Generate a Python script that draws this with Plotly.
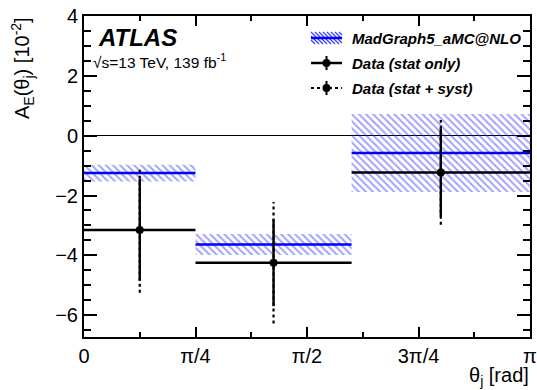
import numpy as np
import plotly.graph_objects as go

PI = np.pi
# ---- data ----
bin_edges = [0.0, PI / 4, 3 * PI / 5, PI]
mc_values = [-1.25, -3.64, -0.58]
mc_uncert = [0.28, 0.35, 1.30]
data_values = [-3.15, -4.25, -1.23]
data_stat = [1.70, 1.45, 1.47]
data_total = [2.10, 2.03, 1.75]
x_tick_vals = [0, PI / 4, PI / 2, 3 * PI / 4, PI]
x_tick_text = ['0', 'π/4', 'π/2', '3π/4', 'π']
x_minor_vals = [PI / 8, 3 * PI / 8, 5 * PI / 8, 7 * PI / 8]
y_tick_vals = [-6, -4, -2, 0, 2, 4]
legend_labels = ['MadGraph5_aMC@NLO', 'Data (stat only)', 'Data (stat + syst)']

lo = np.array(bin_edges[:-1])
hi = np.array(bin_edges[1:])
centers = (lo + hi) / 2
widths = hi - lo
mc = np.array(mc_values)
mce = np.array(mc_uncert)
dv = np.array(data_values)
ds = np.array(data_stat)
dt = np.array(data_total)


def segs(x0s, x1s, y0s, y1s):
    X, Y = [], []
    for a, b, c, d in zip(x0s, x1s, y0s, y1s):
        X += [a, b, None]
        Y += [c, d, None]
    return X, Y


FONT = 'Liberation Sans'
BLUE = '#0000ff'
HATCH = 'rgba(40,40,255,0.9)'

fig = go.Figure()

# MC uncertainty band (hatched)
fig.add_trace(go.Bar(
    x=centers, y=2 * mce, base=mc - mce, width=widths,
    marker=dict(color='rgba(0,0,0,0)', line=dict(width=0),
                pattern=dict(shape='\\', fgcolor=HATCH, bgcolor='rgba(0,0,0,0)',
                             size=5, solidity=0.38)),
    showlegend=False, hoverinfo='skip'))

# MC central value
X, Y = segs(lo, hi, mc, mc)
fig.add_trace(go.Scatter(x=X, y=Y, mode='lines', line=dict(color=BLUE, width=2.5),
                         showlegend=False))

# total uncertainty (dotted)
X, Y = segs(centers, centers, dv - dt, dv + dt)
fig.add_trace(go.Scatter(x=X, y=Y, mode='lines',
                         line=dict(color='black', width=2.2, dash='dot'), showlegend=False))
# stat uncertainty (solid)
X, Y = segs(centers, centers, dv - ds, dv + ds)
fig.add_trace(go.Scatter(x=X, y=Y, mode='lines',
                         line=dict(color='black', width=2.4), showlegend=False))
# data bin widths
X, Y = segs(lo, hi, dv, dv)
fig.add_trace(go.Scatter(x=X, y=Y, mode='lines',
                         line=dict(color='black', width=2.5), showlegend=False))
# data points
fig.add_trace(go.Scatter(x=centers, y=dv, mode='markers',
                         marker=dict(color='black', size=8, symbol='circle'),
                         showlegend=False))

# ---- layout ----
W, H = 537, 390
ML, MR, MT, MB = 84, 7, 16, 53
PW, PH = W - ML - MR, H - MT - MB


def px(x):  # window pixel -> paper
    return (x - ML) / PW


def py(y):
    return 1 - (y - MT) / PH


shapes = []
# legend symbol 1: hatched box + blue line
bx0, bx1, by0, by1 = 311, 342, 32, 44
h = by1 - by0
for t in range(bx0 - h, bx1, 4):
    sx, sy = t, by0
    ex, ey = t + h, by1
    if sx < bx0:
        sy += bx0 - sx
        sx = bx0
    if ex > bx1:
        ey -= ex - bx1
        ex = bx1
    if sx >= ex:
        continue
    shapes.append(dict(type='line', xref='paper', yref='paper',
                       x0=px(sx), y0=py(sy), x1=px(ex), y1=py(ey),
                       line=dict(color=HATCH, width=1.2)))
shapes.append(dict(type='line', xref='paper', yref='paper',
                   x0=px(bx0), y0=py(38), x1=px(bx1), y1=py(38),
                   line=dict(color=BLUE, width=2.5)))
# legend symbols 2 and 3
cx = 326.5
for yy, dash in [(63, 'solid'), (88, 'dot')]:
    shapes.append(dict(type='line', xref='paper', yref='paper',
                       x0=px(bx0), y0=py(yy), x1=px(bx1), y1=py(yy),
                       line=dict(color='black', width=2.5 if dash == 'solid' else 2, dash=dash)))
    shapes.append(dict(type='line', xref='paper', yref='paper',
                       x0=px(cx), y0=py(yy - 7), x1=px(cx), y1=py(yy + 7),
                       line=dict(color='black', width=2)))
    shapes.append(dict(type='circle', xref='paper', yref='paper',
                       x0=px(cx - 4), y0=py(yy - 4), x1=px(cx + 4), y1=py(yy + 4),
                       fillcolor='black', line=dict(color='black', width=0)))

annotations = [
    dict(text='<b><i>ATLAS</i></b>', x=px(96), y=py(37), xref='paper', yref='paper',
         xanchor='left', yanchor='middle', showarrow=False,
         font=dict(family=FONT, size=24, color='black')),
    dict(text='√s=13 TeV, 139 fb<sup>-1</sup>', x=px(91), y=py(61), xref='paper', yref='paper',
         xanchor='left', yanchor='middle', showarrow=False,
         font=dict(family=FONT, size=15.5, color='black')),
    dict(text='A<sub>E</sub>(θ<sub>j</sub>) [10<sup>-2</sup>]', x=px(22), y=py(15),
         xref='paper', yref='paper', xanchor='center', yanchor='top', textangle=-90,
         showarrow=False, font=dict(family=FONT, size=20, color='black')),
    dict(text='θ<sub>j</sub> [rad]', x=px(531), y=py(362), xref='paper', yref='paper',
         xanchor='right', yanchor='top', showarrow=False,
         font=dict(family=FONT, size=20, color='black')),
]
for lab, yy in zip(legend_labels, [38, 63, 88]):
    annotations.append(dict(text='<b><i>' + lab + '</i></b>', x=px(350), y=py(yy),
                            xref='paper', yref='paper', xanchor='left', yanchor='middle',
                            showarrow=False, font=dict(family=FONT, size=15, color='black')))

fig.update_layout(
    width=W, height=H,
    margin=dict(l=ML, r=MR, t=MT, b=MB, pad=0, autoexpand=False),
    paper_bgcolor='white', plot_bgcolor='white',
    showlegend=False,
    font=dict(family=FONT, size=20, color='black'),
    shapes=shapes, annotations=annotations,
    xaxis=dict(range=[0, PI], tickvals=x_tick_vals, ticktext=x_tick_text,
               automargin=False,
               ticks='inside', ticklen=10, tickwidth=1.5, tickcolor='black',
               showline=True, linecolor='black', linewidth=2, mirror='ticks',
               showgrid=False, zeroline=False,
               minor=dict(tickvals=x_minor_vals, ticks='inside', ticklen=5,
                          tickwidth=1.5, tickcolor='black', showgrid=False),
               tickfont=dict(family=FONT, size=20)),
    yaxis=dict(range=[-6.73, 4], tickvals=y_tick_vals,
               automargin=False,
               ticks='inside', ticklen=13, tickwidth=1.5, tickcolor='black',
               showline=True, linecolor='black', linewidth=2, mirror='ticks',
               showgrid=False, zeroline=True, zerolinecolor='black', zerolinewidth=1,
               minor=dict(dtick=0.5, ticks='inside', ticklen=7,
                          tickwidth=1.5, tickcolor='black', showgrid=False),
               tickfont=dict(family=FONT, size=20)),
)

fig.write_html('out.html', config={'displayModeBar': False},
               post_script="document.body.style.margin='0';document.body.style.padding='0';"
                           "document.body.style.overflow='hidden';")
